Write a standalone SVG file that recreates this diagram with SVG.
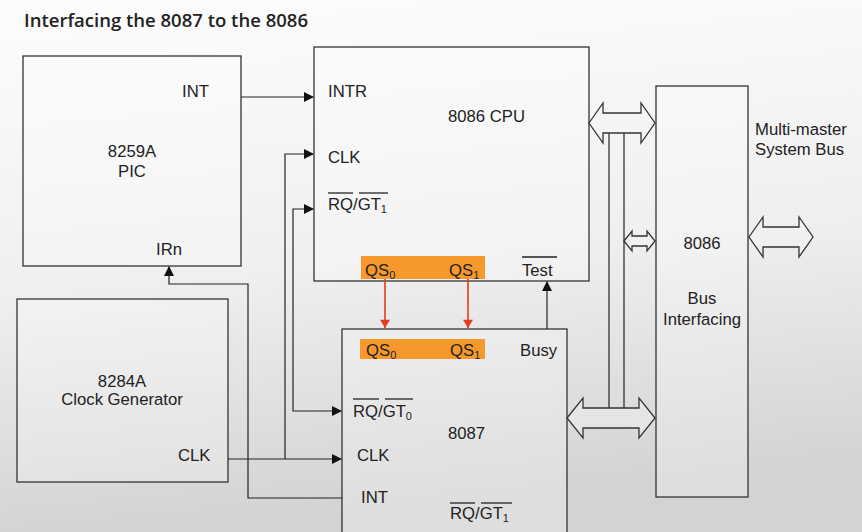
<svg xmlns="http://www.w3.org/2000/svg" width="862" height="532" viewBox="0 0 862 532">
<defs>
<linearGradient id="bg" x1="0" y1="0" x2="0.15" y2="1">
<stop offset="0" stop-color="#fdfdfd"/>
<stop offset="0.55" stop-color="#efefef"/>
<stop offset="1" stop-color="#d3d3d3"/>
</linearGradient>
<marker id="ah" markerUnits="userSpaceOnUse" markerWidth="10" markerHeight="10" refX="9" refY="5" orient="auto-start-reverse" viewBox="0 0 10 10">
<path d="M0,0 L10,5 L0,10 Z" fill="#111"/>
</marker>
<marker id="rh" markerUnits="userSpaceOnUse" markerWidth="12" markerHeight="10" refX="10" refY="6" orient="auto" viewBox="0 0 10 12">
<path d="M0,0 L10,6 L0,12 Z" fill="#e63a1f"/>
</marker>
<style>
.box{fill:#ffffff;fill-opacity:0.25;stroke:#333;stroke-width:1.3}
.t{font-family:"Liberation Sans",Arial,sans-serif;font-size:16.7px;fill:#222}
.c{text-anchor:middle}
.sub{font-size:11px}
.ov{stroke:#222;stroke-width:1.3}
.bar{fill:#f7982c}
.w{fill:none;stroke:#222;stroke-width:1.2}
.red{fill:none;stroke:#e63a1f;stroke-width:1.6}
.bus{fill:#f4f4f4;fill-opacity:0.4;stroke:#333;stroke-width:1.3}
</style>
</defs>
<rect x="0" y="0" width="862" height="532" fill="url(#bg)"/>
<text x="24" y="27" font-family="'Open Sans','DejaVu Sans',sans-serif" font-weight="600" font-size="18" fill="#222" textLength="284" lengthAdjust="spacingAndGlyphs">Interfacing the 8087 to the 8086</text>

<g id="pic">
<rect class="box" x="23" y="56" width="218" height="210"/>
<text class="t" x="182" y="97">INT</text>
<text class="t c" x="132" y="157">8259A</text>
<text class="t c" x="132" y="177">PIC</text>
<text class="t" x="156" y="255">IRn</text>
</g>

<g id="cpu">
<rect class="box" x="314" y="47" width="275" height="234"/>
<text class="t" x="328" y="97">INTR</text>
<text class="t" x="448" y="122">8086 CPU</text>
<text class="t" x="328" y="163">CLK</text>
<text class="t" x="328" y="210">RQ/GT<tspan class="sub" dy="3">1</tspan></text>
<line class="ov" x1="328" y1="193" x2="353" y2="193"/>
<line class="ov" x1="359" y1="193" x2="388" y2="193"/>
<rect class="bar" x="361" y="256" width="124" height="23"/>
<text class="t" x="365" y="276">QS<tspan class="sub" dy="3">0</tspan></text>
<text class="t" x="449" y="276">QS<tspan class="sub" dy="3">1</tspan></text>
<text class="t" x="522" y="276">Test</text>
<line class="ov" x1="522" y1="257" x2="557" y2="257"/>
</g>

<g id="clockgen">
<rect class="box" x="17" y="299" width="211" height="183"/>
<text class="t c" x="122" y="387">8284A</text>
<text class="t c" x="122" y="405">Clock Generator</text>
<text class="t" x="178" y="461">CLK</text>
</g>

<g id="fpu">
<rect class="box" x="342" y="329" width="225" height="220"/>
<rect class="bar" x="360" y="339" width="125" height="20"/>
<text class="t" x="366" y="356">QS<tspan class="sub" dy="3">0</tspan></text>
<text class="t" x="450" y="356">QS<tspan class="sub" dy="3">1</tspan></text>
<text class="t" x="520" y="356">Busy</text>
<text class="t" x="353" y="417">RQ/GT<tspan class="sub" dy="3">0</tspan></text>
<line class="ov" x1="353" y1="399" x2="379" y2="399"/>
<line class="ov" x1="385" y1="399" x2="413" y2="399"/>
<text class="t" x="448" y="439">8087</text>
<text class="t" x="357" y="461">CLK</text>
<text class="t" x="361" y="503">INT</text>
<text class="t" x="450" y="519">RQ/GT<tspan class="sub" dy="3">1</tspan></text>
<line class="ov" x1="450" y1="503" x2="475" y2="503"/>
<line class="ov" x1="481" y1="503" x2="512" y2="503"/>
</g>

<g id="businterface">
<rect class="box" x="656" y="86" width="92" height="411"/>
<text class="t c" x="702" y="249">8086</text>
<text class="t c" x="702" y="304">Bus</text>
<text class="t c" x="702" y="325">Interfacing</text>
</g>

<g id="sysbus">
<text class="t" x="755" y="135">Multi-master</text>
<text class="t" x="755" y="155">System Bus</text>
</g>

<g id="connectors">
<path class="w" d="M241,97 H313" marker-end="url(#ah)"/>
<path class="w" d="M228,459 H341" marker-end="url(#ah)"/>
<path class="w" d="M285,459 V154 H313" marker-end="url(#ah)"/>
<path class="w" d="M313,209 H293 V411 H341" marker-start="url(#ah)" marker-end="url(#ah)"/>
<path class="w" d="M342,498 H248 V284 H169 V267" marker-end="url(#ah)"/>
<path class="w" d="M547,329 V282" marker-end="url(#ah)"/>
<path class="red" d="M385,279 V328" marker-end="url(#rh)"/>
<path class="red" d="M468,279 V328" marker-end="url(#rh)"/>
<line class="w" x1="609" y1="133" x2="609" y2="408"/>
<line class="w" x1="624" y1="133" x2="624" y2="408"/>
<polygon class="bus" points="589,123 603,103 603,113 641,113 641,103 655,123 641,143 641,133 603,133 603,143"/>
<polygon class="bus" points="567,418 583,398 583,408 639,408 639,398 655,418 639,438 639,428 583,428 583,438"/>
<polygon class="bus" points="624,241 632,231 632,236 647,236 647,231 655,241 647,251 647,246 632,246 632,251"/>
<polygon class="bus" points="749,237 763,217 763,227 799,227 799,217 813,237 799,257 799,247 763,247 763,257"/>
</g>
</svg>
